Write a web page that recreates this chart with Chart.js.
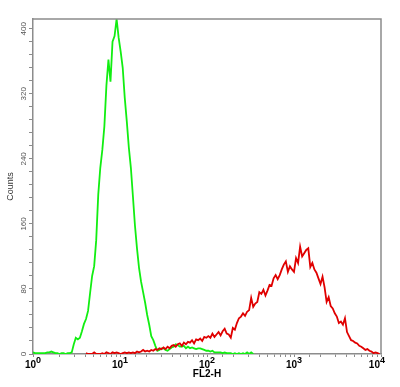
<!DOCTYPE html>
<html>
<head>
<meta charset="utf-8">
<script src="https://cdn.jsdelivr.net/npm/chart.js@4.4.1/dist/chart.umd.min.js"></script>
<style>
  html, body { margin: 0; padding: 0; background: #fff; }
  #wrap { width: 400px; height: 387px; }
</style>
</head>
<body>
<div id="wrap"><canvas id="histo" width="400" height="387"></canvas></div>
<script>
// FL2-H histogram: 1024 channels over 4 decades, one reading every 6 channels
const CHANNELS_PER_DECADE = 256;
const BIN_STEP = 6;
const DECADES = [0, 1, 2, 3, 4];
const Y_MAX = 412;
const Y_MINOR_STEP = 16;
const Y_LABEL_STEP = 80;

// green trace (control), starts at bin 0
const greenStart = 0;
const greenCounts = [
  2, 1, 1, 1, 1, 1, 1, 2, 2, 3,
  2, 1, 1, 0, 1, 1, 0, 1, 1, 2,
  12, 20, 18, 20, 28, 37, 43, 53, 75, 96,
  108, 140, 196, 229, 251, 280, 330, 362, 335, 384,
  391, 412, 389, 372, 352, 315, 286, 254, 229, 194,
  158, 130, 106, 89, 76, 63, 48, 36, 22, 17,
  10, 4, 5, 7, 7, 5, 4, 6, 8, 9,
  12, 11, 9, 9, 10, 7, 9, 7, 8, 7,
  6, 7, 7, 6, 5, 4, 4, 3, 4, 2,
  2, 2, 2, 1, 2, 1, 1, 1, 0, 1,
  0, 1, 0, 1, 0, 2, 0, 2, 0
];

// red trace (stained), starts at bin 26
const redStart = 26;
const redCounts = [
  1, 0, 0, 0, 2, 0, 0, 0, 1, 0,
  2, 1, 0, 2, 1, 2, 1, 0, 1, 2,
  1, 2, 1, 2, 1, 3, 2, 3, 5, 3,
  4, 3, 5, 4, 6, 5, 7, 6, 8, 6,
  9, 7, 10, 11, 9, 12, 13, 10, 14, 12,
  15, 14, 17, 13, 18, 17, 19, 16, 21, 20,
  22, 20, 25, 21, 24, 27, 23, 28, 31, 25,
  24, 20, 32, 30, 38, 44, 46, 50, 47, 52,
  54, 69, 58, 62, 64, 76, 74, 79, 72, 78,
  85, 84, 93, 97, 92, 97, 104, 110, 114, 101,
  108, 104, 101, 118, 112, 132, 120, 124, 128, 130,
  107, 112, 104, 100, 93, 86, 95, 82, 64, 70,
  59, 56, 50, 46, 38, 40, 36, 44, 27, 22,
  17, 16, 14, 13, 10, 9, 7, 5, 6, 4,
  3, 1, 2, 1, 0
];

const AXIS_GRAY = '#8c8c8c';
const FONT = '"Liberation Sans", Arial, sans-serif';

function toPoints(start, counts) {
  return counts.map((c, k) => ({
    x: Math.pow(10, (start + k) * BIN_STEP / CHANNELS_PER_DECADE),
    y: c
  }));
}

// top + right edge of the plot box
const frameBox = {
  id: 'frameBox',
  afterDatasetsDraw(chart) {
    const { ctx, chartArea: a } = chart;
    ctx.save();
    ctx.strokeStyle = AXIS_GRAY;
    ctx.lineWidth = 1.5;
    ctx.beginPath();
    ctx.moveTo(a.left, a.top);
    ctx.lineTo(a.right, a.top);
    ctx.lineTo(a.right, a.bottom);
    ctx.stroke();
    ctx.restore();
  }
};

// 10^n labels with raised exponent
const decadeLabels = {
  id: 'decadeLabels',
  afterDraw(chart) {
    const { ctx } = chart;
    const xs = chart.scales.x;
    const baseY = xs.top + 13.5;
    ctx.save();
    ctx.fillStyle = '#000';
    ctx.textBaseline = 'alphabetic';
    ctx.textAlign = 'left';
    DECADES.forEach(d => {
      const px = xs.getPixelForValue(Math.pow(10, d));
      ctx.font = 'bold 10px ' + FONT;
      const wb = ctx.measureText('10').width;
      ctx.font = 'bold 9px ' + FONT;
      const ws = ctx.measureText(String(d)).width;
      let left = px - (wb + ws) / 2;
      left = Math.min(left, chart.width - 15 - (wb + ws));
      ctx.font = 'bold 10px ' + FONT;
      ctx.fillText('10', left, baseY);
      ctx.font = 'bold 9px ' + FONT;
      ctx.fillText(String(d), left + wb, baseY - 4.5);
    });
    ctx.restore();
  }
};

new Chart(document.getElementById('histo'), {
  type: 'line',
  data: {
    datasets: [
      { label: 'red', data: toPoints(redStart, redCounts), borderColor: '#e00000', borderWidth: 1.8, pointRadius: 0, tension: 0 },
      { label: 'green', data: toPoints(greenStart, greenCounts), borderColor: '#12ee12', borderWidth: 1.8, pointRadius: 0, tension: 0 }
    ]
  },
  options: {
    responsive: false, animation: false, devicePixelRatio: 1,
    layout: { padding: { top: 19, right: 19, left: 0, bottom: 0 } },
    plugins: { legend: { display: false }, tooltip: { enabled: false } },
    scales: {
      x: {
        type: 'logarithmic', min: 1, max: 10000, z: 1,
        grid: { drawOnChartArea: false, drawTicks: true, tickLength: 3, tickColor: AXIS_GRAY },
        border: { color: AXIS_GRAY, width: 1.5 },
        ticks: { display: false },
        title: { display: true, text: 'FL2-H', color: '#000', font: { family: FONT, size: 10, weight: 'bold' }, padding: { top: 0, bottom: 6.5 } },
        afterFit: s => { s.height = 33; }
      },
      y: {
        min: 0, max: Y_MAX,
        grid: { drawOnChartArea: false, drawTicks: true, tickLength: 4, tickColor: AXIS_GRAY },
        border: { color: AXIS_GRAY, width: 1.5 },
        ticks: {
          stepSize: Y_MINOR_STEP, includeBounds: false, autoSkip: false,
          minRotation: 90, maxRotation: 90, crossAlign: 'center', padding: -1,
          color: '#555', font: { family: FONT, size: 8 },
          callback: v => (v % Y_LABEL_STEP === 0 ? String(v) : '')
        },
        title: { display: true, text: 'Counts', color: '#333', font: { family: FONT, size: 9 }, padding: { top: 5.5, bottom: 0 } },
        afterFit: s => { s.width = 33; }
      }
    }
  },
  plugins: [frameBox, decadeLabels]
});
</script>
</body>
</html>
